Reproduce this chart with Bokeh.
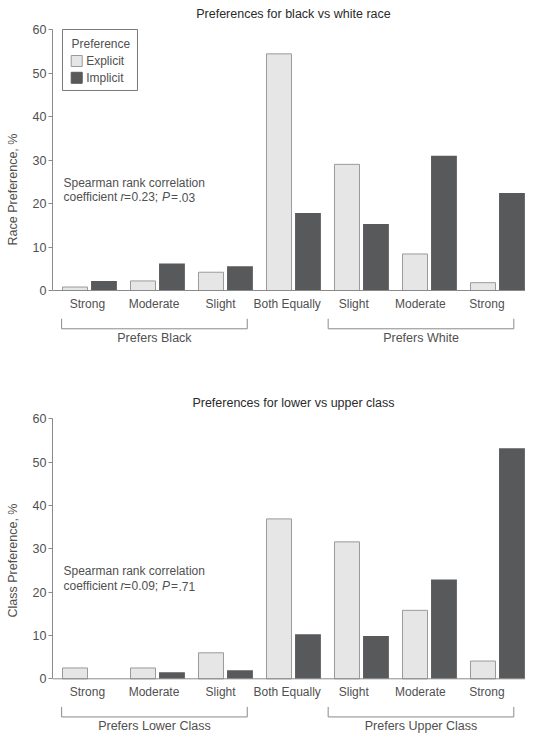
from bokeh.plotting import figure
from bokeh.models import ColumnDataSource, FixedTicker
from bokeh.transform import dodge
from bokeh.layouts import column
from bokeh.core.properties import value
from bokeh.embed import file_html
from bokeh.resources import INLINE

# ---- data ----
categories = ["Strong", "Moderate", "Slight", "Both Equally", "Slight", "Moderate", "Strong"]
race_explicit = [0.8, 2.2, 4.2, 54.4, 29.0, 8.4, 1.8]
race_implicit = [2.2, 6.2, 5.6, 17.8, 15.3, 31.0, 22.4]
class_explicit = [2.5, 2.5, 6.0, 36.9, 31.6, 15.8, 4.1]
class_implicit = [0.0, 1.5, 2.0, 10.3, 9.9, 22.9, 53.2]
y_ticks = [0, 10, 20, 30, 40, 50, 60]
series_names = ["Explicit", "Implicit"]
legend_title = "Preference"

FONT = value("Liberation Sans")
TXT = "#505050"
AX = "#8a8a8a"
EXP_FILL = "#e6e6e7"
EXP_LINE = "#9a9a9a"
IMP_FILL = "#58595b"


def txt(p, x, y, s, align="left", size="12px", style="normal", color=TXT, angle=0):
    p.text(x=[x], y=[y], text=[s], text_font=FONT, text_font_size=size,
           text_font_style=style, text_color=color, text_align=align,
           text_baseline="middle", angle=angle)


def make_chart(title, ylabel, explicit, implicit, groups, rho, pval, y_top, y_bot,
               height, legend=False):
    p = figure(width=525, height=height, output_backend="svg", toolbar_location=None,
               x_range=(-0.544, 6.412), y_range=(y_bot, y_top),
               x_axis_location=None, min_border=0, min_border_left=52)
    p.outline_line_color = None
    p.grid.visible = False
    p.background_fill_color = "white"
    p.border_fill_color = "white"

    ya = p.yaxis[0]
    ya.bounds = (0, 60)
    ya.ticker = FixedTicker(ticks=y_ticks)
    ya.minor_tick_line_color = None
    ya.major_tick_in = 0
    ya.major_tick_out = 4
    ya.major_label_standoff = 2
    ya.axis_line_color = AX
    ya.major_tick_line_color = AX
    ya.major_label_text_font = "Liberation Sans"
    ya.major_label_text_font_size = "12.5px"
    ya.major_label_text_color = TXT
    ya.axis_label = ylabel
    ya.axis_label_text_font = "Liberation Sans"
    ya.axis_label_text_font_size = "12.5px"
    ya.axis_label_text_font_style = "normal"
    ya.axis_label_text_color = TXT
    ya.axis_label_standoff = 10

    xs = list(range(len(categories)))
    src = ColumnDataSource(dict(x=xs, exp=explicit, imp=implicit))
    p.vbar(x=dodge("x", -0.213, range=p.x_range), top="exp", bottom=0, width=0.368,
           source=src, fill_color=EXP_FILL, line_color=EXP_LINE, line_width=1)
    p.vbar(x=dodge("x", 0.213, range=p.x_range), top="imp", bottom=0, width=0.38,
           source=src, fill_color=IMP_FILL, line_color=None)

    # x axis line at y=0
    p.segment(x0=[-0.544], y0=[0], x1=[6.412], y1=[0], line_color=AX, line_width=1)

    # category labels
    for i, c in enumerate(categories):
        txt(p, -0.03 + 0.979 * i, -3.1, c, align="center")

    # group brackets
    brackets = [(-0.41, 2.32), (3.51, 6.24)]
    for (a, b), g in zip(brackets, groups):
        p.line(x=[a, a, b, b], y=[-6.5, -8.8, -8.8, -6.5], line_color=AX, line_width=1)
        txt(p, (a + b) / 2, -10.9, g, align="center", size="12.5px")

    # title
    txt(p, 3.0, 63.6, title, align="center", size="12.5px", color="#2a2a2a")

    # spearman annotation
    txt(p, (63 - 89) / 68, 24.8, "Spearman rank correlation")
    y2 = 21.4
    txt(p, (63 - 89) / 68, y2, "coefficient")
    txt(p, (120 - 89) / 68, y2, "r", style="italic")
    txt(p, (123.5 - 89) / 68, y2, "=")
    txt(p, (131 - 89) / 68, y2, rho)
    txt(p, (161.5 - 89) / 68, y2, "P", style="italic")
    txt(p, (170.5 - 89) / 68, y2, "=")
    txt(p, (178 - 89) / 68, y2, pval)

    if legend:
        p.quad(left=[-0.397], right=[0.706], bottom=[45.98], top=[60.0],
               fill_color="white", line_color="#7a7a7a", line_width=1)
        txt(p, (71 - 89) / 68, 56.6, legend_title)
        p.rect(x=[-0.188], y=[52.76], width=11, height=11, width_units="screen",
               height_units="screen", fill_color=EXP_FILL, line_color=EXP_LINE)
        p.rect(x=[-0.188], y=[48.9], width=11, height=11, width_units="screen",
               height_units="screen", fill_color=IMP_FILL, line_color=IMP_FILL)
        txt(p, -0.049, 52.76, series_names[0])
        txt(p, -0.049, 48.9, series_names[1])
    return p


top = make_chart("Preferences for black vs white race", "Race Preference, %",
                 race_explicit, race_implicit, ["Prefers Black", "Prefers White"],
                 "0.23;", ".03", 66.67, -20.23, 378, legend=True)
bottom = make_chart("Preferences for lower vs upper class", "Class Preference, %",
                    class_explicit, class_implicit,
                    ["Prefers Lower Class", "Prefers Upper Class"],
                    "0.09;", ".71", 69.3, -14.7, 364)

layout = column(top, bottom, spacing=0)
open("out.html", "w").write(file_html(layout, INLINE))
